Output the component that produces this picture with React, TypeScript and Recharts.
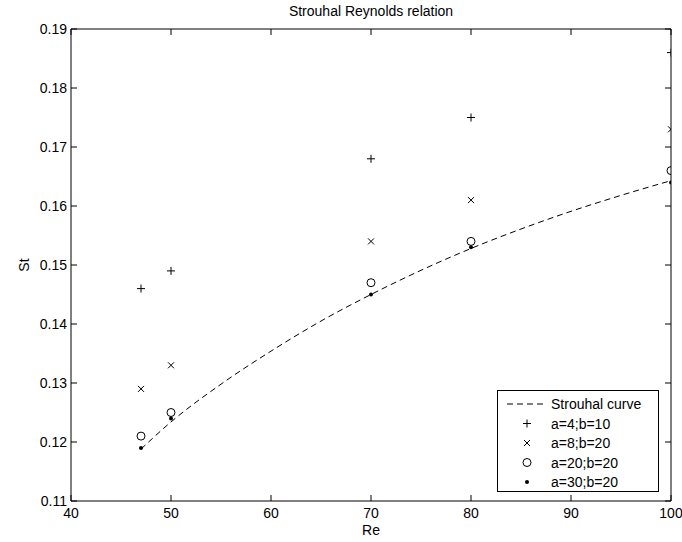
import { ComposedChart, Line, Scatter, XAxis, YAxis, Legend } from "recharts";

// Reynolds numbers of the simulations
const reynolds = [47, 50, 70, 80, 100];
// Strouhal numbers per domain size
const stA4B10 = [0.146, 0.149, 0.168, 0.175, 0.186];
const stA8B20 = [0.129, 0.133, 0.154, 0.161, 0.173];
const stA20B20 = [0.121, 0.125, 0.147, 0.154, 0.166];
const stA30B20 = [0.119, 0.124, 0.145, 0.153, 0.164];

// dashed reference curve
const curveRe = [47, 50, 55, 60, 65, 70, 75, 80, 85, 90, 95, 100];
const curveSt = [0.1188, 0.1234, 0.1298, 0.1354, 0.1405, 0.145, 0.1491, 0.1528, 0.1561, 0.1591, 0.1618, 0.1643];

const xTicks = [40, 50, 60, 70, 80, 90, 100];
const yTicks = [0.11, 0.12, 0.13, 0.14, 0.15, 0.16, 0.17, 0.18, 0.19];

const FONT = "'Liberation Sans', Arial, Helvetica, sans-serif";
const FS = 14;

const toPoints = (vals: number[]) => reynolds.map((re, i) => ({ re, st: vals[i] }));
const curveData = curveRe.map((re, i) => ({ re, st: curveSt[i] }));

const PlusMark = ({ cx, cy, s = 4 }: any) => (
  <g stroke="#000" strokeWidth={1}>
    <line x1={cx - s} y1={cy} x2={cx + s} y2={cy} />
    <line x1={cx} y1={cy - s} x2={cx} y2={cy + s} />
  </g>
);

const CrossMark = ({ cx, cy, s = 3 }: any) => (
  <g stroke="#000" strokeWidth={1}>
    <line x1={cx - s} y1={cy - s} x2={cx + s} y2={cy + s} />
    <line x1={cx - s} y1={cy + s} x2={cx + s} y2={cy - s} />
  </g>
);

const CircleMark = ({ cx, cy }: any) => (
  <circle cx={cx} cy={cy} r={4} fill="none" stroke="#000" strokeWidth={1} />
);

const DotMark = ({ cx, cy }: any) => <circle cx={cx} cy={cy} r={2} fill="#000" />;

// tick lines only, no labels (for the top / right frame)
const NoLabel = () => <g />;

const legendRows = [
  { label: "Strouhal curve", kind: "line" },
  { label: "a=4;b=10", kind: "plus" },
  { label: "a=8;b=20", kind: "cross" },
  { label: "a=20;b=20", kind: "circle" },
  { label: "a=30;b=20", kind: "dot" },
];

const renderLegend = () => (
  <svg width={162} height={103} style={{ display: "block" }}>
    <rect x={0.5} y={0.5} width={161} height={101} fill="#fff" stroke="#000" />
    {legendRows.map((row, i) => {
      const y = 14 + i * 19.5;
      return (
        <g key={row.label}>
          {row.kind === "line" && (
            <line x1={10} y1={y} x2={48} y2={y} stroke="#000" strokeDasharray="6 4" />
          )}
          {row.kind === "plus" && <PlusMark cx={30} cy={y} />}
          {row.kind === "cross" && <CrossMark cx={30} cy={y} />}
          {row.kind === "circle" && <CircleMark cx={30} cy={y} />}
          {row.kind === "dot" && <DotMark cx={30} cy={y} />}
          <text x={54} y={y} dominantBaseline="central" fontFamily={FONT} fontSize={FS} fill="#000">
            {row.label}
          </text>
        </g>
      );
    })}
  </svg>
);

const tickStyle = { fill: "#000", fontSize: FS, fontFamily: FONT };

export default function App() {
  return (
    <div style={{ position: "absolute", left: 0, top: 0, background: "#fff" }}>
      <ComposedChart width={682} height={542} margin={{ top: 28, right: 10, bottom: 0, left: 0 }}>
        <XAxis
          dataKey="re"
          type="number"
          domain={[40, 100]}
          ticks={xTicks}
          interval={0}
          allowDataOverflow
          height={41}
          stroke="#000"
          tickSize={-6}
          tickMargin={13}
          tick={tickStyle}
          label={{ value: "Re", position: "insideBottom", offset: 7, fill: "#000", fontSize: FS, fontFamily: FONT }}
        />
        <XAxis
          xAxisId="top"
          dataKey="re"
          orientation="top"
          type="number"
          domain={[40, 100]}
          ticks={xTicks}
          interval={0}
          allowDataOverflow
          height={1}
          stroke="#000"
          tickSize={-6}
          tick={NoLabel}
          label={{ value: "Strouhal Reynolds relation", position: "top", offset: 12, fill: "#000", fontSize: FS, fontFamily: FONT }}
        />
        <YAxis
          type="number"
          domain={[0.11, 0.19]}
          ticks={yTicks}
          interval={0}
          allowDataOverflow
          width={71}
          stroke="#000"
          tickSize={-6}
          tickMargin={10}
          tick={tickStyle}
          tickFormatter={(v: number) => v.toFixed(2)}
          label={{
            value: "St",
            angle: -90,
            position: "insideLeft",
            offset: 24,
            fill: "#000",
            fontSize: FS,
            fontFamily: FONT,
            style: { textAnchor: "middle" },
          }}
        />
        <YAxis
          yAxisId="right"
          orientation="right"
          type="number"
          domain={[0.11, 0.19]}
          ticks={yTicks}
          interval={0}
          allowDataOverflow
          width={1}
          stroke="#000"
          tickSize={-6}
          tick={NoLabel}
        />
        <Line
          data={curveData}
          dataKey="st"
          type="monotone"
          stroke="#000"
          strokeWidth={1}
          strokeDasharray="6 4"
          dot={false}
          activeDot={false}
          isAnimationActive={false}
        />
        <Scatter data={toPoints(stA4B10)} dataKey="st" shape={(p: any) => <PlusMark cx={p.cx} cy={p.cy} />} isAnimationActive={false} />
        <Scatter data={toPoints(stA8B20)} dataKey="st" shape={(p: any) => <CrossMark cx={p.cx} cy={p.cy} />} isAnimationActive={false} />
        <Scatter data={toPoints(stA20B20)} dataKey="st" shape={(p: any) => <CircleMark cx={p.cx} cy={p.cy} />} isAnimationActive={false} />
        <Scatter data={toPoints(stA30B20)} dataKey="st" shape={(p: any) => <DotMark cx={p.cx} cy={p.cy} />} isAnimationActive={false} />
        <Legend
          layout="vertical"
          align="center"
          verticalAlign="middle"
          content={renderLegend}
          wrapperStyle={{ left: 497, top: 390, width: 162, height: 103 }}
        />
      </ComposedChart>
    </div>
  );
}
